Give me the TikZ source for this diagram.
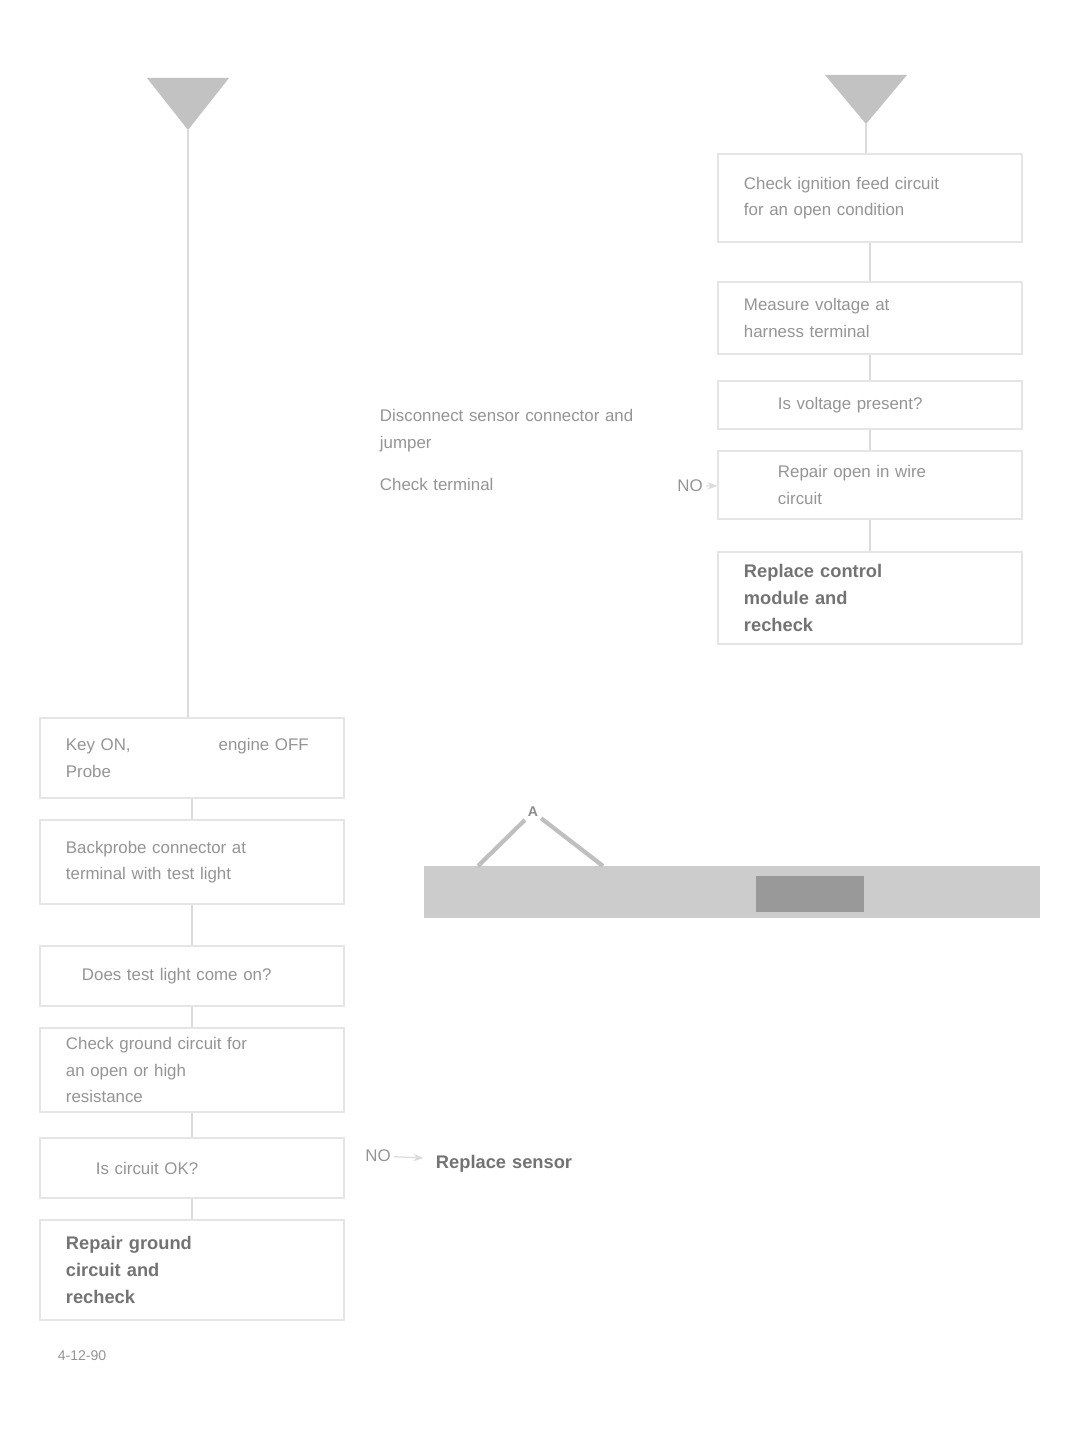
\documentclass[tikz,border=0pt]{standalone}
\usepackage{fontspec}
\setmainfont{Liberation Sans}
\usetikzlibrary{arrows.meta}

\tikzset{
  stepbox/.style={draw=black!10, line width=0.8pt, minimum width=7.6cm,
    text width=6.3cm, align=left, inner sep=6pt,
    font=\fontsize{12}{19}\selectfont, text=black!42},
  endbox/.style={stepbox, font=\fontsize{13}{19}\selectfont\bfseries, text=black!55},
  flow/.style={draw=black!14, line width=0.9pt},
  note/.style={font=\fontsize{12}{19}\selectfont, text=black!42, align=left, inner sep=2pt},
}

\begin{document}
\begin{tikzpicture}[x=0.025cm,y=-0.025cm]
  \useasboundingbox (0,0) rectangle (1076,1438);

  % entry points
  \fill[black!24] (147,78) -- (229,78) -- (188,130) -- cycle;
  \coordinate (inL) at (188,130);
  \fill[black!24] (825,75) -- (907,75) -- (866,124) -- cycle;
  \coordinate (inR) at (866,124);

  % right column
  \node[stepbox, minimum height=2.2cm] (r1) at (870,198) {Check ignition feed circuit\\for an open condition};
  \node[stepbox, minimum height=1.8cm] (r2) at (870,318) {Measure voltage at\\harness terminal};
  \node[stepbox, minimum height=1.2cm, text width=5.8cm] (r3) at (870,405) {\hspace*{0.6cm}Is voltage present?};
  \node[stepbox, minimum height=1.7cm, text width=4.6cm] (r4) at (870,485) {Repair open in wire\\circuit};
  \node[endbox, minimum height=2.3cm] (r5) at (870,598) {Replace control\hspace{1.4cm}\\module and\\recheck};

  \draw[flow] (inR) -- (inR |- r1.north);
  \draw[flow] (r1) -- (r2);
  \draw[flow] (r2) -- (r3);
  \draw[flow] (r3) -- (r4);
  \draw[flow] (r4) -- (r5);

  % side branch
  \node[note, text width=7cm] (m1) at (520,450) {Disconnect sensor connector and\\jumper\\[0.4cm]Check terminal};
  \node[note] (no1) at (690,486) {NO};
  \draw[flow, -{Stealth}] (no1) -- (r4);

  % left column
  \node[stepbox, minimum height=2cm] (l1) at (192,758) {Key ON,\hspace{2.2cm}engine OFF\\Probe};
  \node[stepbox, minimum height=2.1cm] (l2) at (192,862) {Backprobe connector at\\terminal with test light};
  \node[stepbox, minimum height=1.5cm, text width=5.5cm] (l3) at (192,976) {Does test light come on?};
  \node[stepbox, minimum height=2.1cm] (l4) at (192,1070) {Check ground circuit for\\an open or high\\resistance};
  \node[stepbox, minimum height=1.5cm, text width=4.8cm] (l5) at (192,1168) {Is circuit OK?};
  \node[endbox, minimum height=2.5cm] (l6) at (192,1270) {Repair ground\hspace{1.4cm}\\circuit and\\recheck};
  \node[note, font=\fontsize{10}{12}\selectfont] (fig) at (82,1356) {4-12-90};

  \draw[flow] (inL) -- (inL |- l1.north);
  \draw[flow] (l1) -- (l2);
  \draw[flow] (l2) -- (l3);
  \draw[flow] (l3) -- (l4);
  \draw[flow] (l4) -- (l5);
  \draw[flow] (l5) -- (l6);

  \node[note] (no2) at (378,1156) {NO};
  \node[endbox, draw=none, text width=6.2cm, minimum width=6.8cm] (b1) at (560,1164) {Replace sensor};
  \draw[flow, -{Stealth}] (no2) -- (b1);

  % connector view
  \node[fill=black!20, minimum width=15.4cm, minimum height=1.3cm, inner sep=0pt] (bar) at (732,892) {};
  \node[fill=black!40, minimum width=2.7cm, minimum height=0.9cm, inner sep=0pt] (pin) at (810,894) {};
  \node[note, font=\fontsize{10}{12}\selectfont\bfseries, text=black!45] (tag) at (533,812) {A};
  \coordinate (tagL) at (478,866);
  \coordinate (tagR) at (603,866);
  \draw[black!25, line width=3pt] (tag) -- (tagL);
  \draw[black!25, line width=3pt] (tag) -- (tagR);
\end{tikzpicture}
\end{document}
